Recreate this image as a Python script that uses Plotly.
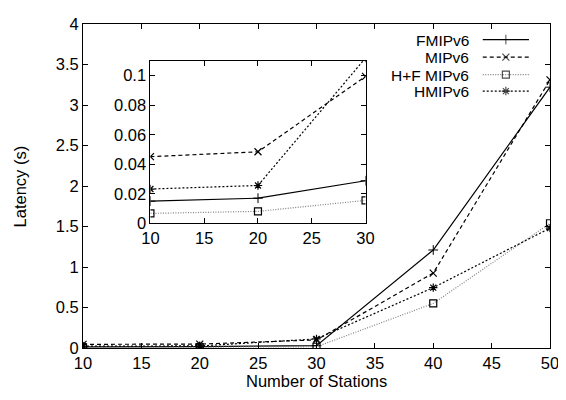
import plotly.graph_objects as go

stations = [10, 20, 30, 40, 50]
fmipv6 = [0.0151, 0.0171, 0.0289, 1.21, 3.22]
mipv6 = [0.0452, 0.0485, 0.0996, 0.925, 3.31]
hf_mipv6 = [0.0068, 0.0082, 0.0156, 0.55, 1.54]
hmipv6 = [0.0233, 0.0257, 0.112, 0.745, 1.48]

inset_n = 3  # inset shows first three station counts

series = [
    ("FMIPv6", fmipv6, dict(color="black", width=1.2, dash="solid"), dict(symbol="cross-thin-open", size=7, line=dict(color="black", width=1))),
    ("MIPv6", mipv6, dict(color="black", width=1.2, dash="4px,3px"), dict(symbol="x-thin-open", size=7, line=dict(color="black", width=1.2))),
    ("H+F MIPv6", hf_mipv6, dict(color="#808080", width=1.2, dash="1px,1.5px"), dict(symbol="square-open", size=7, color="black", line=dict(color="black", width=1.2))),
    ("HMIPv6", hmipv6, dict(color="black", width=1.2, dash="2px,2px"), dict(symbol="asterisk-open", size=7, line=dict(color="black", width=1.2))),
]

fig = go.Figure()
for name, vals, ln, mk in series:
    fig.add_trace(go.Scatter(x=stations, y=vals, mode="lines+markers", line=ln, marker=mk,
                             showlegend=False, xaxis="x", yaxis="y"))
    fig.add_trace(go.Scatter(x=stations[:inset_n], y=vals[:inset_n], mode="lines+markers", line=ln, marker=mk,
                             showlegend=False, xaxis="x2", yaxis="y2"))

FS = 16.5
font = dict(family="Liberation Sans, Arial, sans-serif", size=FS, color="black")
legfont = dict(font, size=15.5)

# custom gnuplot-style legend (text left, sample right)
leg_y = [0.952, 0.898, 0.844, 0.793]
for (name, vals, ln, mk), yy in zip(series, leg_y):
    fig.add_trace(go.Scatter(x=[0.856, 0.9055, 0.955], y=[yy, yy, yy], mode="lines+markers",
                             line=ln, marker=mk, marker_size=[0, mk["size"], 0],
                             showlegend=False, xaxis="x3", yaxis="y3", hoverinfo="skip"))
    fig.add_annotation(x=0.828, y=yy, xref="paper", yref="paper", text=name, showarrow=False,
                       xanchor="right", yanchor="middle", font=legfont, height=16, valign="middle",
                       borderpad=0)

# axis titles
fig.add_annotation(x=0.5, y=-0.102, xref="paper", yref="paper", text="Number of Stations",
                   showarrow=False, xanchor="center", yanchor="middle", font=font)
fig.add_annotation(x=-0.134, y=0.5, xref="paper", yref="paper", text="Latency (s)", textangle=-90,
                   showarrow=False, xanchor="center", yanchor="middle", font=font)

axcommon = dict(showline=True, linecolor="black", linewidth=1, mirror="allticks", ticks="inside",
                ticklen=5, tickcolor="black", showgrid=False, zeroline=False, tickfont=font,
                ticklabeloverflow="allow")

# page body has an 8px default margin, so the figure is sized to fit the remaining window
fig.update_layout(
    width=558, height=392,
    margin=dict(l=75, r=12, t=7, b=52),
    paper_bgcolor="white", plot_bgcolor="white",
    font=font,
    xaxis=dict(axcommon, range=[10, 50], dtick=5, tick0=10),
    yaxis=dict(axcommon, range=[0, 4], dtick=0.5),
    xaxis2=dict(axcommon, domain=[0.1444, 0.605], anchor="y2", range=[10, 30], dtick=5, tick0=10),
    yaxis2=dict(axcommon, domain=[0.3844, 0.886], anchor="x2", range=[0, 0.11],
                tickvals=[0, 0.02, 0.04, 0.06, 0.08, 0.1], ticktext=["0", "0.02", "0.04", "0.06", "0.08", "0.1"]),
    xaxis3=dict(domain=[0, 1], range=[0, 1], visible=False, anchor="y3", overlaying="x"),
    yaxis3=dict(domain=[0, 1], range=[0, 1], visible=False, anchor="x3", overlaying="y"),
)

fig.write_html("out.html")
